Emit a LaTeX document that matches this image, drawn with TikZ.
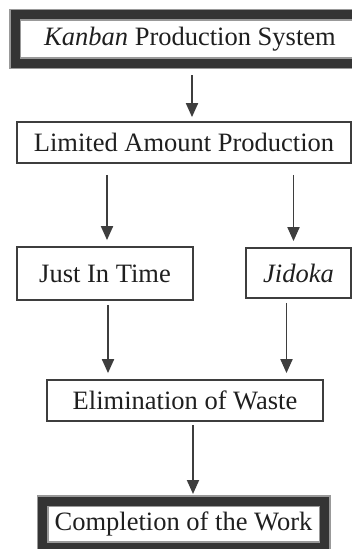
\documentclass[tikz,border=0pt]{standalone}
\usepackage{fontspec}
\setmainfont{Liberation Serif}
\usepackage{tikz}
\usetikzlibrary{arrows.meta}
\usepackage{xcolor}
\definecolor{clrink}{RGB}{62,62,62}
\definecolor{clrframe}{RGB}{52,52,52}

\begin{document}
\begin{tikzpicture}[
    x=1pt, y=-1pt,
    font=\fontsize{26.5}{30}\selectfont,
    box/.style={draw=clrink, line width=1.8pt, text=black!88,
                inner sep=0pt, anchor=center},
    heavy/.style={box, draw=clrframe, line width=9pt,
                  preaction={draw=black!40, line width=12pt}},
    arr/.style={-{Triangle[width=12pt,length=14pt]}, line width=1.9pt, clrink},
  ]
    \useasboundingbox (0,0) rectangle (352,549);
    \clip (0,0) rectangle (352,549);

    \node[heavy, minimum width=350pt, minimum height=48.5pt] (kps)  at (190,38.75) {\textit{Kanban} Production System};
    \node[box,   minimum width=334pt, minimum height=41pt]   (lap)  at (184,142.5) {Limited Amount Production};
    \node[box,   minimum width=176pt, minimum height=53pt]   (jit)  at (105,273.5) {Just In Time};
    \node[box,   minimum width=105pt, minimum height=50pt]   (jid)  at (298.5,273) {\textit{Jidoka}};
    \node[box,   minimum width=276pt, minimum height=41pt]   (elim) at (185,400.5) {Elimination of Waste};
    \node[heavy, minimum width=282pt, minimum height=46pt]   (comp) at (183.5,524) {Completion of the Work};

    \draw[arr, shorten <=7.5pt, shorten >=4pt] ([xshift=2pt]kps.south) -- ([xshift=2pt]kps.south |- lap.north);
    \draw[arr, shorten <=11pt, shorten >=6pt] ([xshift=2pt]jit.north |- lap.south) -- ([xshift=2pt]jit.north);
    \draw[arr, shorten <=11pt, shorten >=6pt] ([xshift=-5pt]jid.north |- lap.south) -- ([xshift=-5pt]jid.north);
    \draw[arr, shorten <=4pt, shorten >=6pt] ([xshift=3pt]jit.south) -- ([xshift=3pt]jit.south |- elim.north);
    \draw[arr, shorten <=4pt, shorten >=6pt] ([xshift=-12pt]jid.south) -- ([xshift=-12pt]jid.south |- elim.north);
    \draw[arr, shorten <=3pt, shorten >=2.5pt] ([xshift=8pt]elim.south) -- ([xshift=8pt]elim.south |- comp.north);
  \end{tikzpicture}
\end{document}
